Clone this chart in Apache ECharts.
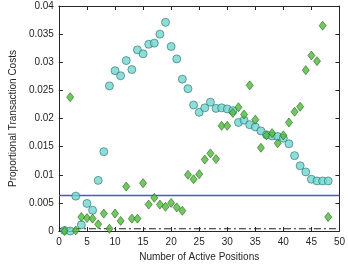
<!DOCTYPE html>
<html><head><meta charset="utf-8">
<script src="https://cdn.jsdelivr.net/npm/echarts@6/dist/echarts.min.js"></script>
<style>html,body{margin:0;padding:0;background:#fff}#c{width:348px;height:267px}</style>
</head><body><div id="c"></div>
<script>
const positions = [1,2,3,4,5,6,7,8,9,10,11,12,13,14,15,16,17,18,19,20,21,22,23,24,25,26,27,28,29,30,31,32,33,34,35,36,37,38,39,40,41,42,43,44,45,46,47,48];
const cyanCosts = [0.0001,0.0000,0.0062,0.0011,0.0049,0.0037,0.0090,0.0141,0.0258,0.0285,0.0276,0.0303,0.0287,0.0322,0.0315,0.0332,0.0334,0.0350,0.0371,0.0328,0.0306,0.0270,0.0253,0.0224,0.0211,0.0219,0.0229,0.0218,0.0219,0.0217,0.0214,0.0193,0.0197,0.0189,0.0185,0.0178,0.0171,0.0169,0.0168,0.0165,0.0155,0.0134,0.0116,0.0105,0.0092,0.0089,0.0089,0.0089];
const greenCosts = [0.0000,0.0238,0.0001,0.0025,0.0023,0.0022,0.0012,0.0031,0.0004,0.0031,0.0018,0.0079,0.0022,0.0022,0.0085,0.0047,0.0059,0.0047,0.0043,0.0050,0.0042,0.0036,0.0100,0.0092,0.0101,0.0127,0.0138,0.0128,0.0187,0.0187,0.0210,0.0220,0.0207,0.0259,0.0198,0.0148,0.0170,0.0174,0.0156,0.0170,0.0193,0.0212,0.0221,0.0286,0.0312,0.0302,0.0365,0.0025];
const blueLevel = 0.0063;
const blackLevel = 0.0004;
const xRange = [0, 50];
const xTickLabels = ['0','5','10','15','20','25','30','35','40','45','50'];
const yTickLabels = ['0','0.005','0.01','0.015','0.02','0.025','0.03','0.035','0.04'];

const font = 'Liberation Sans, Arial, sans-serif';
const axisCommon = {
  axisLine: {show: true, onZero: false, lineStyle: {color: '#262626', width: 1}},
  axisTick: {show: true, inside: true, length: 4, lineStyle: {color: '#262626'}},
  splitLine: {show: false}
};
const chart = echarts.init(document.getElementById('c'), null, {renderer: 'canvas'});
chart.setOption({
  animation: false,
  backgroundColor: '#fff',
  grid: {left: 56, right: 5, top: 6, bottom: 36},
  xAxis: [
    Object.assign({type: 'value', min: 0, max: 50, interval: 5, position: 'bottom',
      name: 'Number of Active Positions', nameLocation: 'middle', nameGap: 20,
      nameTextStyle: {fontFamily: font, fontSize: 10, color: '#262626'},
      axisLabel: {fontFamily: font, fontSize: 10, color: '#262626', margin: 6,
        formatter: (v) => xTickLabels[Math.round(v / 5)]}}, axisCommon),
    Object.assign({type: 'value', min: 0, max: 50, interval: 5, position: 'top',
      axisLabel: {show: false}}, axisCommon)
  ],
  yAxis: [
    Object.assign({type: 'value', min: 0, max: 0.04, interval: 0.005, position: 'left',
      name: 'Proportional Transaction Costs', nameLocation: 'middle', nameGap: 38,
      nameTextStyle: {fontFamily: font, fontSize: 10, color: '#262626'},
      axisLabel: {fontFamily: font, fontSize: 10, color: '#262626', margin: 5,
        formatter: (v) => yTickLabels[Math.round(v / 0.005)]}}, axisCommon),
    Object.assign({type: 'value', min: 0, max: 0.04, interval: 0.005, position: 'right',
      axisLabel: {show: false}}, axisCommon)
  ],
  series: [
    {
      type: 'line', z: 1, symbol: 'none', silent: true,
      data: xRange.map(x => [x, blueLevel]),
      lineStyle: {color: '#4a5ab8', width: 1.5, type: 'solid'}
    },
    {
      type: 'line', z: 1, symbol: 'none', silent: true,
      data: xRange.map(x => [x, blackLevel]),
      lineStyle: {color: '#222', width: 1.2, type: [7, 3, 2, 3]}
    },
    {
      type: 'scatter', z: 2, symbol: 'circle', symbolSize: 8,
      data: positions.map((p, i) => [p, cyanCosts[i]]),
      itemStyle: {color: '#70d6d0', borderColor: '#2b6f6c', borderWidth: 0.8}
    },
    {
      type: 'scatter', z: 3, symbol: 'diamond', symbolSize: [7, 9],
      data: positions.map((p, i) => [p, greenCosts[i]]),
      itemStyle: {color: '#4dba3a', borderColor: '#2a6a1f', borderWidth: 0.8}
    }
  ]
});
</script></body></html>
